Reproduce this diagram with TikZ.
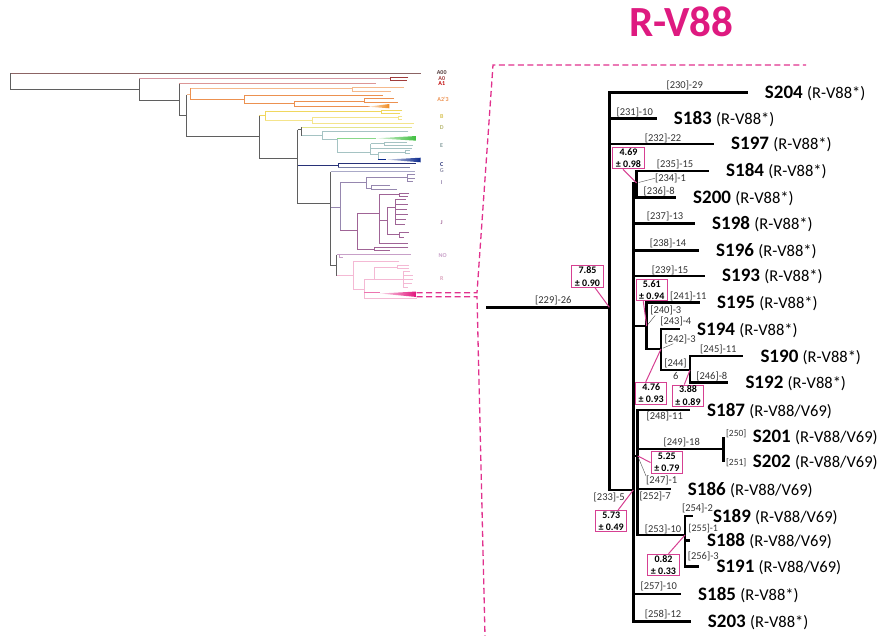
\documentclass[tikz,border=0pt]{standalone}
\usepackage{fontspec}
\setmainfont{Carlito}
\definecolor{rv}{RGB}{222,26,128}
\definecolor{rvbox}{RGB}{214,64,146}
\definecolor{lg}{RGB}{95,95,95}
\definecolor{ca00}{RGB}{140,100,100}
\definecolor{ca0}{RGB}{214,150,160}
\definecolor{ca0d}{RGB}{160,60,60}
\definecolor{ca1}{RGB}{220,150,150}
\definecolor{co1}{RGB}{245,185,140}
\definecolor{co2}{RGB}{236,145,80}
\definecolor{co3}{RGB}{240,138,32}
\definecolor{cy1}{RGB}{240,215,95}
\definecolor{cy2}{RGB}{244,228,140}
\definecolor{cd}{RGB}{228,228,140}
\definecolor{ce}{RGB}{165,195,195}
\definecolor{cgr}{RGB}{60,190,60}
\definecolor{cbl}{RGB}{10,40,140}
\definecolor{cc}{RGB}{40,50,120}
\definecolor{cc2}{RGB}{120,125,165}
\definecolor{cg}{RGB}{170,170,200}
\definecolor{ci}{RGB}{150,135,175}
\definecolor{cj}{RGB}{160,100,150}
\definecolor{cno}{RGB}{200,160,200}
\definecolor{cr}{RGB}{244,185,212}
\definecolor{crm}{RGB}{225,16,122}
\newcommand\samplab[2]{\textbf{#1} {\fontsize{16.5}{18}\selectfont #2}}
\begin{document}
\begin{tikzpicture}[x=1pt,y=-1pt,
  br/.style={line width=2.6pt},
  lt/.style={line width=1pt},
  leaf/.style={anchor=base west, inner sep=0pt, xshift=17pt, yshift=-6pt, font=\fontsize{19}{22}\selectfont},
  lab/.style={inner sep=0pt, text=black!80, font=\fontsize{10.5}{12}\selectfont},
  box/.style={draw=rvbox, line width=1pt, fill=white, minimum width=31.5pt, minimum height=21.5pt, inner sep=0pt, align=center, font=\fontsize{10}{12.5}\selectfont\bfseries},
  ptr/.style={rvbox, line width=1pt},
  lead/.style={black!65, line width=0.45pt, shorten >=2pt},
  dsh/.style={rv!90, line width=1.3pt, dash pattern=on 6pt off 3.5pt},
  ltag/.style={inner sep=0pt, font=\fontsize{6}{7}\selectfont\bfseries}]
\useasboundingbox (0,0) rectangle (878,636);

\draw[lt,lg] (10.7,73.3) |- (139.3,89.3) (139.3,79) |- (179.3,100.7) (179.3,84) |- (186.7,115.7) (186.7,95) |- (259.3,136.7) (259.3,116) |- (297.7,158.3) (297.7,130) |- (330.7,204) (330.7,171.7) |- (336.7,266) (297.7,130) -- (301.7,130) (301.7,127.3) -- (301.7,135.7) (336.7,255) -- (336.7,276);
\draw[lt,ca00] (10.7,73.3) -- (420.7,73.3);
\draw[lt,ca0] (139.3,79) -- (390,79);
\draw[lt,ca0d] (408.3,77.3) -| (390,80.7) -- (406.7,80.7);
\draw[lt,ca1] (179.3,84) -- (375.7,84);
\draw[lt,co1] (186.7,95) -- (190,95) (190,88.3) -- (352.7,88.3) (404,87.7) -| (352.7,91.7) -- (390.7,91.7);
\draw[lt,co2] (190,88.3) |- (244.3,99.3) (244.3,95.7) |- (294.3,103.3) (244.3,95.7) -- (383.3,95.7) (294.3,101.7) |- (370,106.7) (294.3,101.7) -- (364.3,101.7) (394,99) -| (364.3,102.3) -- (398.3,102.3);
\shade[left color=co3!15, right color=co3] (368,106.7) -- (389.3,104) -- (389.3,108.3) -- cycle;
\draw[lt,cy1] (259.3,116) -- (265,116) (265,111.7) -- (265,121) (265,111.7) -- (381.7,111.7) (402.3,110.7) -| (381.7,114) -- (400,114);
\draw[lt,cy2] (265,121) -- (312.3,121) (312.3,117.3) |- (414,123.3) (312.3,117.3) -- (398.3,117.3) (402.3,116.7) -| (398.3,120) -- (402.3,120);
\draw[lt,cd] (301.7,127.3) -- (411.7,127.3);
\draw[lt,ce] (301.7,135.7) -- (322.7,135.7) (408.3,131.7) -| (322.7,140) -- (337.3,140) (337.3,138.3) |- (370.7,152.3) (370.7,144) |- (378.3,155) (370.7,144) -- (384.3,144) (406.7,142.3) -| (384.3,145.7) -- (413.3,145.7) (370.7,149) -- (411.7,149) (405,152.3) -| (378.3,159.3) (410,151) -| (405,154) -- (410,154);
\draw[lt,cgr!60] (337.3,138.3) -- (376,138.3);
\shade[left color=cgr!15, right color=cgr] (376,138.3) -- (416.7,136) -- (416.7,140.7) -- cycle;
\draw[lt,cbl] (378.3,159.3) -- (386,159.3);
\shade[left color=cbl!15, right color=cbl] (386,159.6) -- (420.7,157.7) -- (420.7,162.3) -- cycle;
\draw[lt,cc] (297.7,166) -- (338.3,166) (415.7,164) -| (338.3,167.7);
\draw[lt,cc2] (338.3,167.7) -- (410,167.7);
\draw[lt,cg] (330.7,171.7) -- (415,171.7);
\draw[lt,ci] (330.7,207.3) -- (340,207.3) (340,182.7) -- (340,231) (340,182.7) -- (366,182.7) (407.7,177.3) -| (366,188.3) -- (371.7,188.3) (415,175) -| (407.7,181.7) -- (413.3,181.7) (407.7,178.3) -- (415,178.3) (390,186) -| (371.7,189.3) -- (397.3,189.3);
\draw[lt,cj] (340,231) -- (357.3,231) (379,213.3) -| (357.3,249.3) -- (374,249.3) (399.3,195) -| (379,243.3) -- (407.7,243.3) (379,220.7) -- (387.3,220.7) (395,207.3) -| (387.3,235) -- (399.3,235) (395,200) -- (395,225) (395,200) -- (406,200) (395,205) -- (408,205) (395,210) -- (407,210) (395,215) -- (408,215) (395,220) -- (406,220) (395,225) -- (405,225) (409.3,193.3) -| (399.3,196.7) -- (408.3,196.7) (409,232.7) -| (399.3,237.3) -- (404,237.3) (408.3,247.7) -| (374,251) -- (390,251);
\draw[lt,cno] (336.7,255) -- (410.7,255) (339.3,255) -- (339.3,258) -- (343,258);
\draw[lt,cr] (336.7,276) -- (353.3,276) (399.3,261.7) -| (353.3,289.3) -- (364.3,289.3) (374.3,280) -| (364.3,298.3) -- (416.7,298.3) (397,267.3) -| (374.3,280) -- (403.3,280) (409,265.5) -| (397,269) -- (409,269) (403.3,272) -- (403.3,288) (403.3,272) -- (410,272) (403.3,276) -- (413,276) (403.3,280) -- (413,280) (403.3,284) -- (412,284) (403.3,288) -- (408,288);
\draw[lt,cr!60!crm] (364.3,292.7) -- (380,292.7);
\shade[left color=crm!15, right color=crm] (380,293.5) -- (416.7,291.5) -- (416.7,297) -- cycle;

\node[ltag,ca00!60!black] (ta00) at (441.7,73) {A00};
\node[ltag,ca0d] (ta0) at (441.7,78.7) {A0};
\node[ltag,red!75!black] (ta1) at (441.7,83.5) {A1};
\node[ltag,co2] (ta23) at (443,99) {A2'3};
\node[ltag,cy1!90!black] (tb) at (441.7,116.7) {B};
\node[ltag,cd!80!black] (td) at (441.7,127.5) {D};
\node[ltag,ce!80!black] (te) at (441.7,145.7) {E};
\node[ltag,cc] (tc) at (441.7,164.3) {C};
\node[ltag,cg!85!black] (tg) at (441.7,171) {G};
\node[ltag,ci] (ti) at (441.7,182.3) {I};
\node[ltag,cj] (tj) at (441.7,222.3) {J};
\node[ltag,cno] (tno) at (442.7,256) {NO};
\node[ltag,cr!90!black] (tr) at (441.7,279) {R};

\coordinate (z1) at (416.7,292.7);
\coordinate (z2) at (416.7,296.7);
\draw[dsh] (z1) -- (477,292.7) -- (493,65) -- (806,65);
\draw[dsh] (z2) -- (477,296.7) -- (485,636);

\node[rv, anchor=base, inner sep=0pt, font=\fontsize{43}{50}\selectfont\bfseries] (ttl) at (681.3,36.7) {R-V88};

\coordinate (r229) at (486,307.3);
\coordinate (v229) at (609.3,307.3);
\coordinate (v233) at (633.3,490);
\coordinate (v234) at (636.7,183);
\coordinate (v240) at (646.7,326);
\coordinate (v242) at (661,349);
\coordinate (v244) at (690,370);
\coordinate (v247) at (637.7,456);
\coordinate (v249) at (723.3,449);
\coordinate (v253) at (685,535);
\path (747.7,92.3) coordinate (t204) node[leaf] (s204) {\samplab{S204}{(R-V88*)}};
\path (656.7,118.3) coordinate (t183) node[leaf] (s183) {\samplab{S183}{(R-V88*)}};
\path (714,144) coordinate (t197) node[leaf] (s197) {\samplab{S197}{(R-V88*)}};
\path (709,171) coordinate (t184) node[leaf] (s184) {\samplab{S184}{(R-V88*)}};
\path (676,197.3) coordinate (t200) node[leaf] (s200) {\samplab{S200}{(R-V88*)}};
\path (695,223.3) coordinate (t198) node[leaf] (s198) {\samplab{S198}{(R-V88*)}};
\path (699,250.7) coordinate (t196) node[leaf] (s196) {\samplab{S196}{(R-V88*)}};
\path (705,276) coordinate (t193) node[leaf] (s193) {\samplab{S193}{(R-V88*)}};
\path (700,302.7) coordinate (t195) node[leaf] (s195) {\samplab{S195}{(R-V88*)}};
\path (680,329) coordinate (t194) node[leaf] (s194) {\samplab{S194}{(R-V88*)}};
\path (743.3,356) coordinate (t190) node[leaf] (s190) {\samplab{S190}{(R-V88*)}};
\path (728.3,382.7) coordinate (t192) node[leaf] (s192) {\samplab{S192}{(R-V88*)}};
\path (690,410) coordinate (t187) node[leaf] (s187) {\samplab{S187}{(R-V88/V69)}};
\path (723.3,436.7) coordinate (t201) node[leaf, xshift=12.4pt] (s201) {\samplab{S201}{(R-V88/V69)}};
\path (723.3,461.7) coordinate (t202) node[leaf, xshift=12.4pt] (s202) {\samplab{S202}{(R-V88/V69)}};
\path (670.7,489) coordinate (t186) node[leaf] (s186) {\samplab{S186}{(R-V88/V69)}};
\path (693.3,516) coordinate (t189) node[leaf, xshift=2.5pt] (s189) {\samplab{S189}{(R-V88/V69)}};
\path (690,540.7) coordinate (t188) node[leaf] (s188) {\samplab{S188}{(R-V88/V69)}};
\path (699.3,566.7) coordinate (t191) node[leaf] (s191) {\samplab{S191}{(R-V88/V69)}};
\path (681,594) coordinate (t185) node[leaf] (s185) {\samplab{S185}{(R-V88*)}};
\path (690.7,621.7) coordinate (t203) node[leaf] (s203) {\samplab{S203}{(R-V88*)}};

\draw[br] (r229) -- (v229);
\draw[br] (v229) |- (t204);
\draw[br] (v229) |- (t183);
\draw[br] (v229) |- (t197);
\draw[br] (v229) |- (v233);
\draw[br] (v233) |- (v234);
\draw[br] (v233) |- (t198);
\draw[br] (v233) |- (t196);
\draw[br] (v233) |- (t193);
\draw[br] (v233) |- (v240);
\draw[br] (v233) |- (v247);
\draw[br] (v233) |- (t185);
\draw[br] (v233) |- (t203);
\draw[br] (v234) |- (t184);
\draw[br] (v234) |- (t200);
\draw[br] (v240) |- (t195);
\draw[br] (v240) |- (v242);
\draw[br] (v242) |- (t194);
\draw[br] (v242) |- (v244);
\draw[br] (v244) |- (t190);
\draw[br] (v244) |- (t192);
\draw[br] (v247) |- (t187);
\draw[br] (v247) |- (v249);
\draw[br] (v247) |- (t186);
\draw[br] (v247) |- (v253);
\draw[br] (v249) |- (t201);
\draw[br] (v249) |- (t202);
\draw[br] (v253) |- (t189);
\draw[br] (v253) |- (t188);
\draw[br] (v253) |- (t191);

\node[lab] (l229) at (553.3,300.7) {[229]-26};
\node[lab] (l230) at (684.7,85.5) {[230]-29};
\node[lab] (l231) at (634.7,112.7) {[231]-10};
\node[lab] (l232) at (663,138.3) {[232]-22};
\node[lab] (l235) at (675,164.3) {[235]-15};
\node[lab] (l234) at (670.5,178.3) {[234]-1};
\node[lab] (l236) at (659.2,191) {[236]-8};
\node[lab] (l237) at (665,216.7) {[237]-13};
\node[lab] (l238) at (668,243.3) {[238]-14};
\node[lab] (l239) at (670,270) {[239]-15};
\node[lab] (l241) at (688.3,296) {[241]-11};
\node[lab] (l240) at (665.8,310.7) {[240]-3};
\node[lab] (l243) at (675.8,321.7) {[243]-4};
\node[lab] (l242) at (680.2,339) {[242]-3};
\node[lab] (l245) at (718.3,349) {[245]-11};
\node[lab] (l244) at (675.5,363.3) {[244]};
\node[lab] (l244b) at (675.8,376) {6};
\node[lab] (l246) at (711.8,376) {[246]-8};
\node[lab] (l248) at (664.7,416) {[248]-11};
\node[lab] (l249) at (681.7,442) {[249]-18};
\node[lab, font=\fontsize{9.5}{11}\selectfont] (l250) at (736.2,433.3) {[250]};
\node[lab, font=\fontsize{9.5}{11}\selectfont] (l251) at (736.2,462.3) {[251]};
\node[lab] (l247) at (661.7,480.7) {[247]-1};
\node[lab] (l252) at (655.2,496) {[252]-7};
\node[lab] (l233) at (609.2,497.7) {[233]-5};
\node[lab] (l254) at (697.5,508.3) {[254]-2};
\node[lab] (l253) at (663,529) {[253]-10};
\node[lab, font=\fontsize{10}{11}\selectfont] (l255) at (703.3,529) {[255]-1};
\node[lab] (l256) at (703.3,556.7) {[256]-3};
\node[lab] (l257) at (658.7,586.7) {[257]-10};
\node[lab] (l258) at (663,614.3) {[258]-12};

\draw[lead] (l234.west) -- (v234);
\draw[lead] ([xshift=5pt]l240.south west) -- (v240);
\draw[lead] ([xshift=8.7pt]l242.south west) -- (v242);
\draw[lead] (l247.north west) -- (v247);

\node[box] (b469) at (628.5,158.2) {4.69\\± 0.98};
\node[box] (b785) at (587.5,276.5) {7.85\\± 0.90};
\node[box] (b561) at (651.8,290) {5.61\\± 0.94};
\node[box] (b476) at (651.2,393.3) {4.76\\± 0.93};
\node[box] (b388) at (688,395.8) {3.88\\± 0.89};
\node[box] (b525) at (666.8,462.5) {5.25\\± 0.79};
\node[box] (b573) at (611.2,521.2) {5.73\\± 0.49};
\node[box] (b082) at (663.5,565) {0.82\\± 0.33};
\draw[ptr] ([xshift=-5.5pt]b469.south) -- (v234);
\draw[ptr] ([xshift=7.5pt]b785.south) -- (v229);
\draw[ptr] ([xshift=-8.5pt]b561.south) -- (v240);
\draw[ptr] ([xshift=-5.5pt]b476.north) -- (v242);
\draw[ptr] ([xshift=-3.7pt]b388.north) -- (v244);
\draw[ptr] (b525.west) -- (v247);
\draw[ptr] ([xshift=7pt]b573.north) -- (v233);
\draw[ptr] ([xshift=5pt]b082.north) -- (v253);
\end{tikzpicture}
\end{document}
